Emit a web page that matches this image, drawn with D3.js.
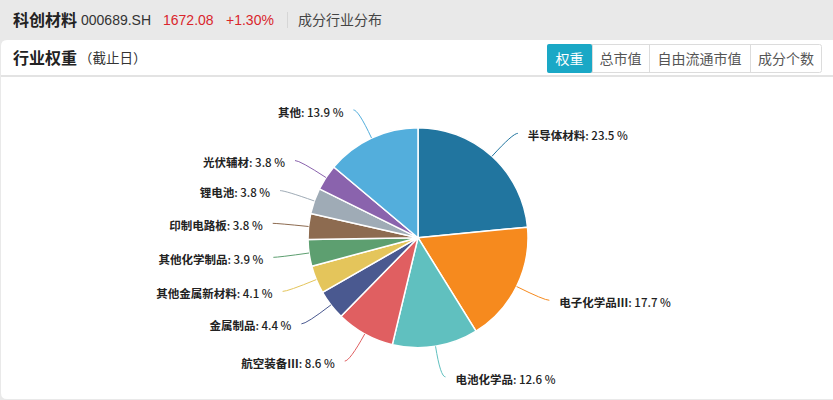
<!DOCTYPE html>
<html><head><meta charset="utf-8">
<script src="https://cdn.jsdelivr.net/npm/d3@7/dist/d3.min.js"></script>
<style>
html,body{margin:0;padding:0;background:#e9e9e9;}
svg{display:block;font-family:"Liberation Sans","Noto Sans CJK SC",sans-serif;}
</style></head><body>
<svg id="c" width="833" height="400"></svg>
<script>
const categories = ["半导体材料","电子化学品Ⅲ","电池化学品","航空装备Ⅲ","金属制品","其他金属新材料","其他化学制品","印制电路板","锂电池","光伏辅材","其他"];
const values = [23.5,17.7,12.6,8.6,4.4,4.1,3.9,3.8,3.8,3.8,13.9];
const colors = ["#21759f","#f68a1e","#60c0bf","#e05f61","#4a5990","#e4c55b","#5d9f70","#8d6b50","#9fabb6","#8a63ad","#53aedc"];
const buttons = ["权重","总市值","自由流通市值","成分个数"];

const svg = d3.select("#c");

// header band
svg.append("rect").attr("width",833).attr("height",400).attr("fill","#e9e9e9");
const hy = 20;
svg.append("text").attr("x",13).attr("y",hy).attr("dy","0.36em").attr("font-size",16).attr("font-weight","bold").attr("fill","#222").text("科创材料");
svg.append("text").attr("x",81).attr("y",hy).attr("dy","0.36em").attr("font-size",14).attr("fill","#333").text("000689.SH");
svg.append("text").attr("x",163).attr("y",hy).attr("dy","0.36em").attr("font-size",14).attr("fill","#d9262c").text("1672.08");
svg.append("text").attr("x",226).attr("y",hy).attr("dy","0.36em").attr("font-size",14).attr("fill","#d9262c").text("+1.30%");
svg.append("line").attr("x1",287.5).attr("x2",287.5).attr("y1",12).attr("y2",28).attr("stroke","#d6d6d6");
svg.append("text").attr("x",298).attr("y",hy).attr("dy","0.36em").attr("font-size",14).attr("fill","#444").text("成分行业分布");

// card
svg.append("path").attr("d","M1,46 Q1,40 7,40 L833,40 L833,399 L7,399 Q1,399 1,393 Z").attr("fill","#fff");
svg.append("line").attr("x1",1).attr("x2",833).attr("y1",76).attr("y2",76).attr("stroke","#e3e3e3").attr("stroke-width",2);
const ty = 58;
svg.append("text").attr("x",13).attr("y",ty).attr("dy","0.36em").attr("font-size",16).attr("font-weight","bold").attr("fill","#222").text("行业权重");
svg.append("text").attr("x",79).attr("y",ty).attr("dy","0.36em").attr("font-size",13.5).attr("fill","#333").text("（截止日）");

// buttons
const bx = [547,592,649,750,822];
const bg = svg.append("g");
bg.append("rect").attr("x",547.5).attr("y",44.5).attr("width",274).attr("height",28).attr("rx",2).attr("fill","#fff").attr("stroke","#dcdcdc");
buttons.forEach((b,i)=>{
  if(i===0){
    bg.append("rect").attr("x",bx[0]).attr("y",44).attr("width",bx[1]-bx[0]).attr("height",29).attr("rx",2).attr("fill","#1aa8c6");
  } else {
    bg.append("line").attr("x1",bx[i]+0.5).attr("x2",bx[i]+0.5).attr("y1",45).attr("y2",72).attr("stroke","#dcdcdc");
  }
  bg.append("text").attr("x",(bx[i]+bx[i+1])/2).attr("y",58.5).attr("dy","0.36em").attr("text-anchor","middle")
    .attr("font-size",14).attr("fill",i===0?"#fff":"#555").text(b);
});

// pie
const cx = 418, cy = 237.7, r = 110;
const data = categories.map((c,i)=>({name:c,value:values[i],color:colors[i]}));
const pie = d3.pie().value(d=>d.value).sort(null);
const arcs = pie(data);
const arc = d3.arc().innerRadius(0).outerRadius(r);
const g = svg.append("g").attr("transform",`translate(${cx},${cy})`);
g.selectAll("path.slice").data(arcs).join("path").attr("class","slice")
  .attr("d",arc).attr("fill",d=>d.data.color).attr("stroke","#fff").attr("stroke-width",1.5).attr("stroke-linejoin","round");

const len1 = 31, len2 = 5, gap = 10;
arcs.forEach(a=>{
  const m = (a.startAngle+a.endAngle)/2;
  const sx = Math.sin(m), sy = -Math.cos(m);
  const p0 = [r*sx, r*sy];
  const p1 = [(r+len1)*sx, (r+len1)*sy];
  const right = sx >= 0;
  const p2 = [p1[0] + (right?len2:-len2), p1[1]];
  g.append("path").attr("d",`M${p0[0]},${p0[1]} Q${p1[0]},${p1[1]} ${p2[0]},${p2[1]}`)
    .attr("fill","none").attr("stroke",a.data.color).attr("stroke-width",1);
  const t = g.append("text").attr("x",p2[0] + (right?gap:-gap)).attr("y",p1[1]+2.5).attr("dy","0.36em")
    .attr("text-anchor",right?"start":"end").attr("font-size",11.5)
    .attr("font-family",'"Noto Sans CJK SC",sans-serif').attr("fill","#222");
  t.append("tspan").attr("font-weight","bold").text(a.data.name);
  t.append("tspan").attr("font-weight",500).text(": " + a.data.value.toFixed(1) + " %");
});
</script>
</body></html>
